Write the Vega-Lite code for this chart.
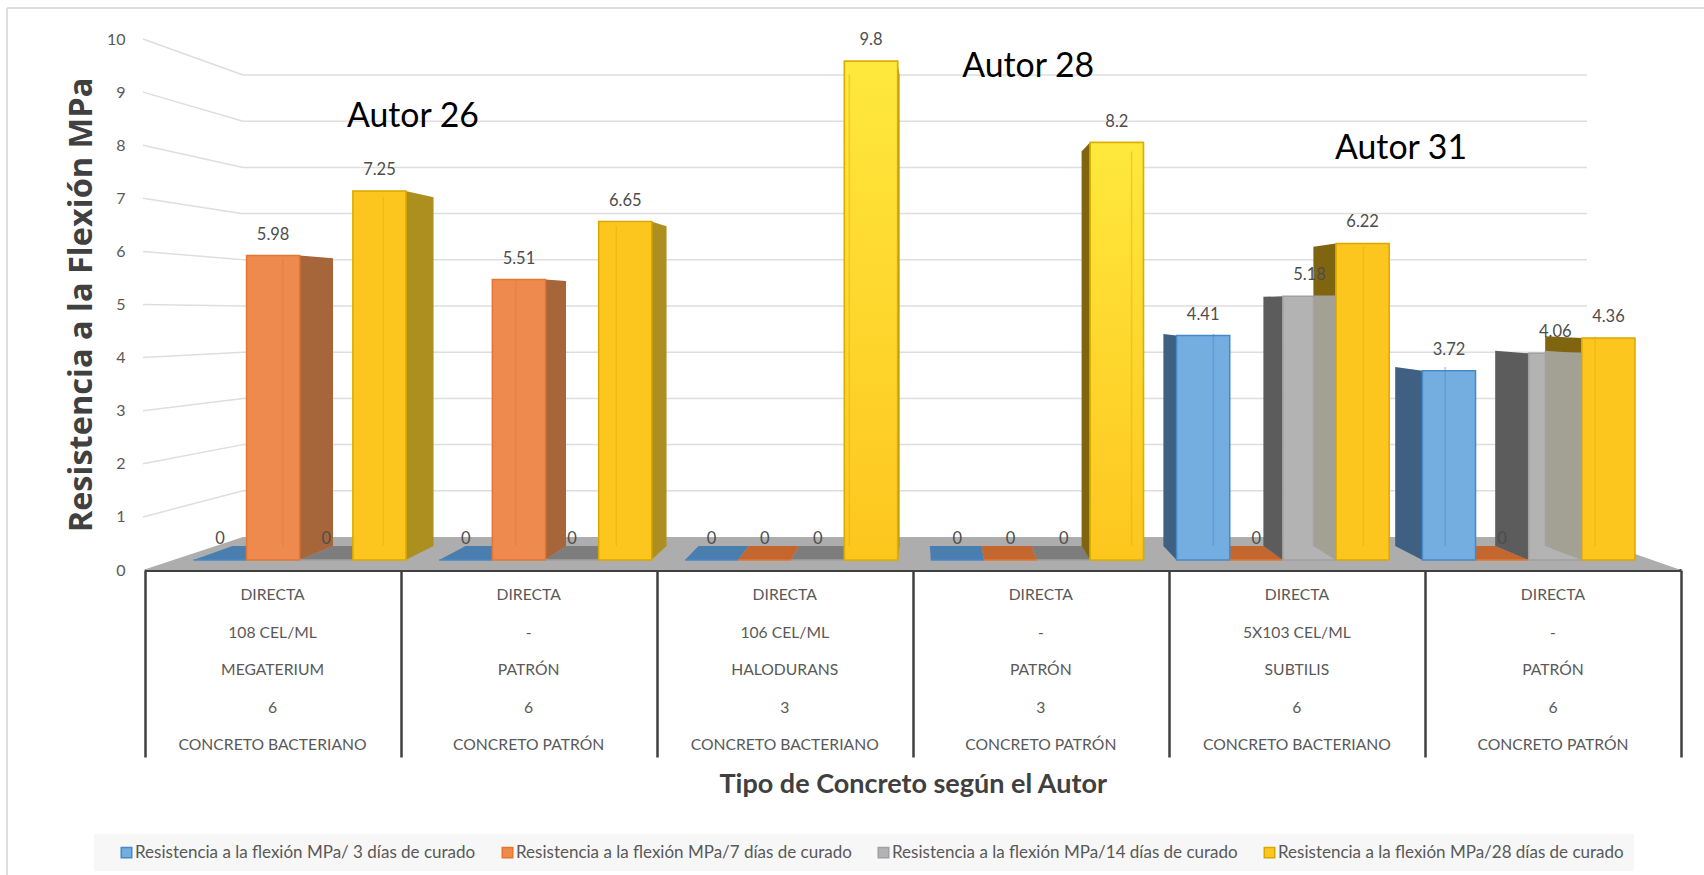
{
"$schema":"https://vega.github.io/schema/vega-lite/v6.json",
"width":1704,"height":875,"autosize":"none","padding":0,"background":"white",
"config":{"view":{"stroke":null},"font":"Lato"},
"datasets":{
"valores":[
{"grupo":0,"s":0,"serie":"Resistencia a la flexión MPa/ 3 días de curado","valor":0},
{"grupo":0,"s":1,"serie":"Resistencia a la flexión MPa/7 días de curado","valor":5.98},
{"grupo":0,"s":2,"serie":"Resistencia a la flexión MPa/14 días de curado","valor":0},
{"grupo":0,"s":3,"serie":"Resistencia a la flexión MPa/28 días de curado","valor":7.25},
{"grupo":1,"s":0,"serie":"Resistencia a la flexión MPa/ 3 días de curado","valor":0},
{"grupo":1,"s":1,"serie":"Resistencia a la flexión MPa/7 días de curado","valor":5.51},
{"grupo":1,"s":2,"serie":"Resistencia a la flexión MPa/14 días de curado","valor":0},
{"grupo":1,"s":3,"serie":"Resistencia a la flexión MPa/28 días de curado","valor":6.65},
{"grupo":2,"s":0,"serie":"Resistencia a la flexión MPa/ 3 días de curado","valor":0},
{"grupo":2,"s":1,"serie":"Resistencia a la flexión MPa/7 días de curado","valor":0},
{"grupo":2,"s":2,"serie":"Resistencia a la flexión MPa/14 días de curado","valor":0},
{"grupo":2,"s":3,"serie":"Resistencia a la flexión MPa/28 días de curado","valor":9.8},
{"grupo":3,"s":0,"serie":"Resistencia a la flexión MPa/ 3 días de curado","valor":0},
{"grupo":3,"s":1,"serie":"Resistencia a la flexión MPa/7 días de curado","valor":0},
{"grupo":3,"s":2,"serie":"Resistencia a la flexión MPa/14 días de curado","valor":0},
{"grupo":3,"s":3,"serie":"Resistencia a la flexión MPa/28 días de curado","valor":8.2},
{"grupo":4,"s":0,"serie":"Resistencia a la flexión MPa/ 3 días de curado","valor":4.41},
{"grupo":4,"s":1,"serie":"Resistencia a la flexión MPa/7 días de curado","valor":0},
{"grupo":4,"s":2,"serie":"Resistencia a la flexión MPa/14 días de curado","valor":5.18},
{"grupo":4,"s":3,"serie":"Resistencia a la flexión MPa/28 días de curado","valor":6.22},
{"grupo":5,"s":0,"serie":"Resistencia a la flexión MPa/ 3 días de curado","valor":3.72},
{"grupo":5,"s":1,"serie":"Resistencia a la flexión MPa/7 días de curado","valor":0},
{"grupo":5,"s":2,"serie":"Resistencia a la flexión MPa/14 días de curado","valor":4.06},
{"grupo":5,"s":3,"serie":"Resistencia a la flexión MPa/28 días de curado","valor":4.36}
],
"tabla":[
{"grupo":0,"nivel":1,"etiqueta":"DIRECTA"},{"grupo":0,"nivel":2,"etiqueta":"108 CEL/ML"},{"grupo":0,"nivel":3,"etiqueta":"MEGATERIUM"},{"grupo":0,"nivel":4,"etiqueta":"6"},{"grupo":0,"nivel":5,"etiqueta":"CONCRETO BACTERIANO"},
{"grupo":1,"nivel":1,"etiqueta":"DIRECTA"},{"grupo":1,"nivel":2,"etiqueta":"-"},{"grupo":1,"nivel":3,"etiqueta":"PATRÓN"},{"grupo":1,"nivel":4,"etiqueta":"6"},{"grupo":1,"nivel":5,"etiqueta":"CONCRETO PATRÓN"},
{"grupo":2,"nivel":1,"etiqueta":"DIRECTA"},{"grupo":2,"nivel":2,"etiqueta":"106 CEL/ML"},{"grupo":2,"nivel":3,"etiqueta":"HALODURANS"},{"grupo":2,"nivel":4,"etiqueta":"3"},{"grupo":2,"nivel":5,"etiqueta":"CONCRETO BACTERIANO"},
{"grupo":3,"nivel":1,"etiqueta":"DIRECTA"},{"grupo":3,"nivel":2,"etiqueta":"-"},{"grupo":3,"nivel":3,"etiqueta":"PATRÓN"},{"grupo":3,"nivel":4,"etiqueta":"3"},{"grupo":3,"nivel":5,"etiqueta":"CONCRETO PATRÓN"},
{"grupo":4,"nivel":1,"etiqueta":"DIRECTA"},{"grupo":4,"nivel":2,"etiqueta":"5X103 CEL/ML"},{"grupo":4,"nivel":3,"etiqueta":"SUBTILIS"},{"grupo":4,"nivel":4,"etiqueta":"6"},{"grupo":4,"nivel":5,"etiqueta":"CONCRETO BACTERIANO"},
{"grupo":5,"nivel":1,"etiqueta":"DIRECTA"},{"grupo":5,"nivel":2,"etiqueta":"-"},{"grupo":5,"nivel":3,"etiqueta":"PATRÓN"},{"grupo":5,"nivel":4,"etiqueta":"6"},{"grupo":5,"nivel":5,"etiqueta":"CONCRETO PATRÓN"}
],
"marcas":[{"tick":1},{"tick":2},{"tick":3},{"tick":4},{"tick":5},{"tick":6},{"tick":7},{"tick":8},{"tick":9},{"tick":10}],
"suelo":[{"u":0,"h":0},{"u":0.39,"h":0.62},{"u":5.63,"h":0.62},{"u":6,"h":0}],
"autores":[{"texto":"Autor 26","u":0.893,"h":8.7},{"texto":"Autor 28","u":3.396,"h":9.68},{"texto":"Autor 31","u":4.913,"h":8.07}]
},
"data":{"name":"valores"},
"transform":[
{"calculate":"datum.grupo+datum.s*0.2157","as":"xl"},
{"calculate":"datum.xl+0.2157","as":"xr"},
{"calculate":"datum.xl+0.10785<3.058","as":"izq"},
{"calculate":"(datum.izq?0.052:0.057)*(3.058-datum.xl)","as":"dl"},
{"calculate":"(datum.izq?0.052:0.057)*(3.058-datum.xr)","as":"dr"},
{"calculate":"datum.grupo+'-'+datum.s","as":"id"},
{"calculate":"0.945*datum.valor+0.275","as":"fondo"}
],
"resolve":{"scale":{"x":"independent","y":"independent","xOffset":"independent","fill":"independent","stroke":"independent","color":"independent"}},
"layer":[
{"data":{"values":[{}]},"transform":[],"mark":{"type":"rule","color":"#d4d4d4","strokeWidth":1.5},
 "encoding":{"x":{"datum":0,"type":"quantitative","axis":null,"scale":{"domain":[0,1],"range":[7,1704]}},
 "y":{"datum":0,"type":"quantitative","axis":null,"scale":{"domain":[0,1],"range":[8,875]}},"y2":{"datum":1}}},
{"data":{"values":[{}]},"transform":[],"mark":{"type":"rule","color":"#d4d4d4","strokeWidth":1.5},
 "encoding":{"x":{"datum":0,"type":"quantitative","axis":null,"scale":{"domain":[0,1],"range":[7,1704]}},"x2":{"datum":1},
 "y":{"datum":0,"type":"quantitative","axis":null,"scale":{"domain":[0,1],"range":[8,875]}}}},
{"data":{"name":"marcas"},"transform":[],"mark":{"type":"rule","color":"#dedede","strokeWidth":1.5},
 "encoding":{"x":{"datum":0,"type":"quantitative","axis":null,"scale":{"domain":[0,1],"range":[243,1587]}},"x2":{"datum":1},
 "y":{"field":"tick","type":"quantitative","axis":null,"scale":{"domain":[0,10],"range":[537,75]}}}},
{"data":{"name":"marcas"},"transform":[{"calculate":"0.621+0.87*datum.tick","as":"atras"}],"mark":{"type":"rule","color":"#dedede","strokeWidth":1.5},
 "encoding":{"x":{"datum":0,"type":"quantitative","axis":null,"scale":{"domain":[0,1],"range":[143,243]}},"x2":{"datum":1},
 "y":{"field":"tick","type":"quantitative","scale":{"domain":[0,10],"range":[570,39]},
  "axis":{"orient":"left","offset":-125,"values":[0,1,2,3,4,5,6,7,8,9,10],"grid":false,"domain":false,"ticks":false,"labelPadding":0,"labelFont":"Lato","labelFontSize":16,"labelColor":"#595959",
   "title":"Resistencia a la Flexión MPa","titleFont":"Open Sans","titleFontWeight":"bold","titleFontSize":32.5,"titleColor":"#404040","titlePadding":8}},
 "y2":{"field":"atras"}}},
{"data":{"name":"suelo"},"transform":[],"mark":{"type":"area","color":"#adadad"},
 "encoding":{"x":{"field":"u","type":"quantitative","axis":null,"scale":{"domain":[0,6],"range":[143,1681]}},
 "y":{"field":"h","type":"quantitative","axis":null,"scale":{"domain":[0,10],"range":[570,39]}},"y2":{"datum":0}}},
{"transform":[{"filter":"datum.valor==0"},{"calculate":"[0,1,2,3]","as":"k"},{"flatten":["k"]},
 {"calculate":"(datum.izq?[datum.xl,datum.xl+datum.dl,datum.xr,datum.xr+datum.dr]:[datum.xl+min(datum.dl,-0.004),datum.xl,datum.xr+datum.dr,datum.xr])[datum.k]","as":"px"},
 {"calculate":"(datum.izq?[0,0.275,0.275,0.275]:[0.275,0.275,0.275,0])[datum.k]","as":"sup"},
 {"calculate":"(datum.izq?[0,0,0,0.275]:[0.275,0,0,0])[datum.k]","as":"inf"}],
 "mark":{"type":"area","opacity":1},
 "encoding":{"x":{"field":"px","type":"quantitative","axis":null,"scale":{"domain":[0,6],"range":[193.4,1668.2]}},
 "y":{"field":"sup","type":"quantitative","axis":null,"scale":{"domain":[0,10],"range":[560,51]}},"y2":{"field":"inf"},
 "detail":{"field":"id"},
 "color":{"field":"s","type":"nominal","legend":null,"scale":{"domain":[0,1,2],"range":["#4a7eae","#c4672f","#7d7d7d"]}}}},
{"transform":[{"filter":"datum.valor>0"},{"calculate":"[0,1]","as":"k"},{"flatten":["k"]},
 {"calculate":"(datum.izq?datum.xr:datum.xl)+datum.k*(datum.izq?datum.dr:datum.dl)","as":"px"},
 {"calculate":"datum.k==1?datum.fondo:datum.valor","as":"sup"},
 {"calculate":"datum.k==1?0.275:0","as":"inf"},
 {"calculate":"datum.s+(datum.izq?'R':'L')","as":"cara"}],
 "mark":{"type":"area"},
 "encoding":{"x":{"field":"px","type":"quantitative","axis":null,"scale":{"domain":[0,6],"range":[193.4,1668.2]}},
 "y":{"field":"sup","type":"quantitative","axis":null,"scale":{"domain":[0,10],"range":[560,51]}},"y2":{"field":"inf"},
 "detail":{"field":"id"},
 "color":{"field":"cara","type":"nominal","legend":null,"scale":{"domain":["1R","3R","0L","2L","3L"],"range":["#a6663a","#ad8f1f","#3f6082","#5c5c5c","#7f6510"]}}}},
{"mark":{"type":"bar","strokeWidth":1.5},
 "encoding":{"x":{"field":"grupo","type":"ordinal","axis":null,"scale":{"domain":[0,1,2,3,4,5],"range":[193.4,1635],"paddingInner":0.135,"paddingOuter":0}},
 "xOffset":{"field":"s","type":"ordinal","scale":{"domain":[0,1,2,3]}},
 "y":{"field":"valor","type":"quantitative","axis":null,"scale":{"domain":[0,10],"range":[560,51]}},
 "fill":{"field":"serie","type":"nominal","sort":null,"scale":{"domain":["Resistencia a la flexión MPa/ 3 días de curado","Resistencia a la flexión MPa/7 días de curado","Resistencia a la flexión MPa/14 días de curado","Resistencia a la flexión MPa/28 días de curado"],"range":["#74ade0","#ee8a4d","#b3b3b3","#fdc61f"]},
  "legend":{"title":null,"orient":"none","legendX":94,"legendY":834,"direction":"horizontal","columns":4,"fillColor":"#f7f7f7","padding":10,"columnPadding":9,"symbolType":"square","symbolSize":110,"symbolOffset":14,"labelFont":"Lato","labelFontSize":17,"labelColor":"#595959","labelLimit":400,"labelOffset":0,"symbolStrokeWidth":1.5}},
 "stroke":{"field":"serie","type":"nominal","sort":null,"scale":{"domain":["Resistencia a la flexión MPa/ 3 días de curado","Resistencia a la flexión MPa/7 días de curado","Resistencia a la flexión MPa/14 días de curado","Resistencia a la flexión MPa/28 días de curado"],"range":["#4589c9","#e5762f","#a0a0a0","#d9a800"]},"legend":null}}},
{"transform":[{"filter":"datum.s==3 && (datum.grupo==2 || datum.grupo==3)"}],
 "mark":{"type":"bar","stroke":"#d9b000","strokeWidth":1.5,"fill":{"x1":0,"y1":1,"x2":0,"y2":0,"gradient":"linear","stops":[{"offset":0,"color":"#fdc61f"},{"offset":1,"color":"#ffe83c"}]}},
 "encoding":{"x":{"field":"grupo","type":"ordinal","axis":null,"scale":{"domain":[0,1,2,3,4,5],"range":[193.4,1635],"paddingInner":0.135,"paddingOuter":0}},
 "xOffset":{"field":"s","type":"ordinal","scale":{"domain":[0,1,2,3]}},
 "y":{"field":"valor","type":"quantitative","axis":null,"scale":{"domain":[0,10],"range":[560,51]}}}},
{"transform":[{"filter":"datum.valor>0 && datum.s==2"},{"calculate":"[0,1]","as":"k"},{"flatten":["k"]},
 {"calculate":"datum.xr+datum.k*datum.dr","as":"px"},
 {"calculate":"datum.k==1?datum.fondo:datum.valor","as":"sup"},
 {"calculate":"datum.k==1?0.275:0","as":"inf"}],
 "mark":{"type":"area","color":"#a3a194"},
 "encoding":{"x":{"field":"px","type":"quantitative","axis":null,"scale":{"domain":[0,6],"range":[193.4,1668.2]}},
 "y":{"field":"sup","type":"quantitative","axis":null,"scale":{"domain":[0,10],"range":[560,51]}},"y2":{"field":"inf"},"detail":{"field":"id"}}},
{"transform":[{"filter":"datum.valor>0"},
 {"calculate":"datum.izq?datum.xl+datum.dl:datum.xr+datum.dr","as":"px"},
 {"calculate":"0.275","as":"inf"}],
 "mark":{"type":"rule","strokeWidth":1.5,"opacity":0.45},
 "encoding":{"x":{"field":"px","type":"quantitative","axis":null,"scale":{"domain":[0,6],"range":[193.4,1668.2]}},
 "y":{"field":"fondo","type":"quantitative","axis":null,"scale":{"domain":[0,10],"range":[560,51]}},"y2":{"field":"inf"},
 "color":{"field":"s","type":"nominal","legend":null,"scale":{"domain":[0,1,2,3],"range":["#4589c9","#e5762f","#a0a0a0","#e0b000"]}}}},
{"mark":{"type":"text","dy":-21,"font":"Lato","fontSize":16.5,"color":"#4d4d4d"},
 "encoding":{"x":{"field":"grupo","type":"ordinal","axis":null,"scale":{"domain":[0,1,2,3,4,5],"range":[193.4,1635],"paddingInner":0.135,"paddingOuter":0}},
 "xOffset":{"field":"s","type":"ordinal","scale":{"domain":[0,1,2,3]}},
 "y":{"field":"valor","type":"quantitative","axis":null,"scale":{"domain":[0,10],"range":[560,51]}},
 "text":{"field":"valor","type":"quantitative"}}},
{"data":{"name":"autores"},"transform":[],"mark":{"type":"text","font":"Lato","fontSize":33.8,"color":"#000000"},
 "encoding":{"x":{"field":"u","type":"quantitative","axis":null,"scale":{"domain":[0,6],"range":[193.4,1668.2]}},
 "y":{"field":"h","type":"quantitative","axis":null,"scale":{"domain":[0,10],"range":[560,51]}},
 "text":{"field":"texto"}}},
{"data":{"name":"tabla"},"transform":[],"mark":{"type":"text","font":"Lato","fontSize":15.7,"color":"#595959"},
 "encoding":{"x":{"field":"grupo","type":"ordinal","scale":{"domain":[0,1,2,3,4,5],"range":[144.5,1681],"paddingInner":0,"paddingOuter":0},
  "axis":{"orient":"bottom","offset":-305,"labels":false,"tickBand":"extent","tickSize":187,"tickWidth":2.5,"tickColor":"#404040","domainWidth":3,"domainColor":"#404040","grid":false,
   "title":"Tipo de Concreto según el Autor","titleFont":"Lato","titleFontWeight":"bold","titleFontSize":27,"titleColor":"#404040","titlePadding":13}},
 "y":{"field":"nivel","type":"ordinal","axis":null,"scale":{"domain":[1,2,3,4,5],"range":[576.25,763.75],"paddingInner":0,"paddingOuter":0}},
 "text":{"field":"etiqueta"}}}
]
}
